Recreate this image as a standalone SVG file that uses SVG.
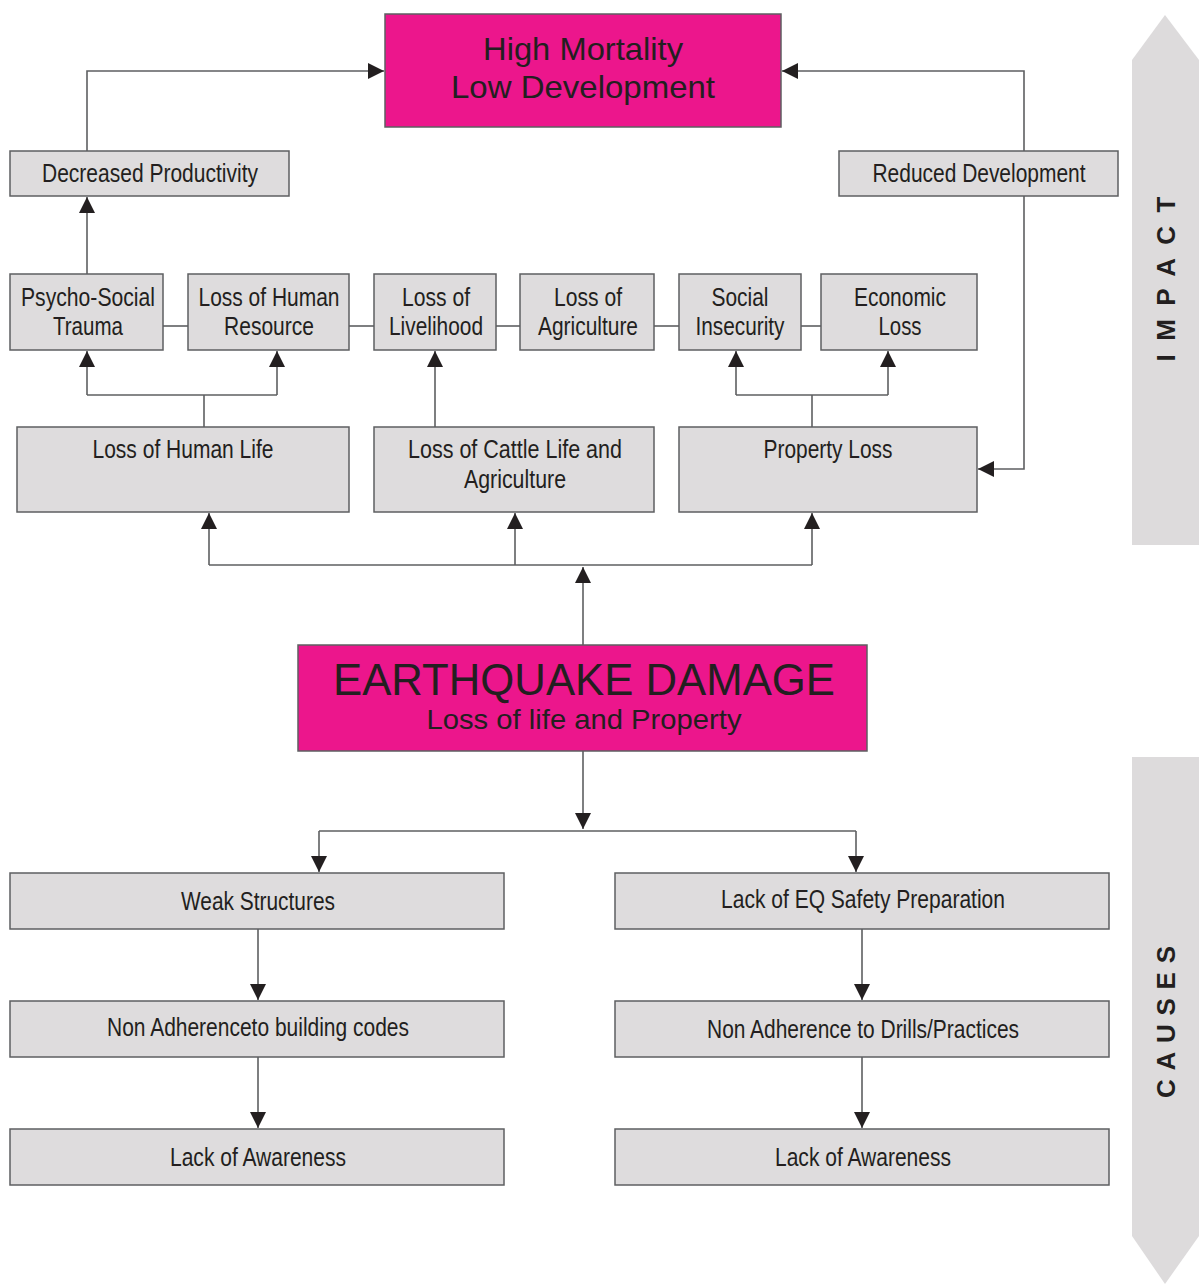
<svg xmlns="http://www.w3.org/2000/svg" width="1199" height="1284" viewBox="0 0 1199 1284">
<style>
.box{fill:#DEDCDD;stroke:#5E5F61;stroke-width:1.5}
.hot{fill:#EC168C;stroke:#5E5F61;stroke-width:1.5}
.t{font-family:"Liberation Sans",Arial,sans-serif;font-size:25px;fill:#231F20;text-anchor:middle}
.big{font-family:"Liberation Sans",Arial,sans-serif;fill:#231F20;text-anchor:middle}
.side{font-family:"Liberation Sans",Arial,sans-serif;font-size:26px;font-weight:bold;fill:#231F20;text-anchor:middle}
.ln{fill:none;stroke:#5E5F61;stroke-width:1.6}
.band{fill:#DDDBDC}
</style>
<defs>
<marker id="ah" markerWidth="16" markerHeight="16" viewBox="0 0 16 16" refX="16" refY="8" orient="auto" markerUnits="userSpaceOnUse">
<path d="M0,0 L16,8 L0,16 Z" fill="#231F20"/>
</marker>
</defs>

<g id="impact-band">
<polygon class="band" points="1132,60 1165,15 1199,60 1199,545 1132,545"/>
<text class="side" transform="translate(1175,279) rotate(-90)" textLength="165" lengthAdjust="spacing">IMPACT</text>
</g>
<g id="causes-band">
<polygon class="band" points="1132,757 1199,757 1199,1236 1165,1284 1132,1236"/>
<text class="side" transform="translate(1175,1022) rotate(-90)" textLength="152" lengthAdjust="spacing">CAUSES</text>
</g>

<g id="connectors">
<polyline class="ln" points="87,151 87,71 384,71" marker-end="url(#ah)"/>
<polyline class="ln" points="1024,151 1024,71 782,71" marker-end="url(#ah)"/>
<polyline class="ln" points="1024,196 1024,469 978,469" marker-end="url(#ah)"/>
<line class="ln" x1="87" y1="274" x2="87" y2="197" marker-end="url(#ah)"/>
<line class="ln" x1="163" y1="326" x2="188" y2="326"/>
<line class="ln" x1="349" y1="326" x2="374" y2="326"/>
<line class="ln" x1="496" y1="326" x2="520" y2="326"/>
<line class="ln" x1="654" y1="326" x2="679" y2="326"/>
<line class="ln" x1="801" y1="326" x2="821" y2="326"/>
<line class="ln" x1="204" y1="427" x2="204" y2="395"/>
<polyline class="ln" points="87,395 87,351" marker-end="url(#ah)"/>
<line class="ln" x1="87" y1="395" x2="277" y2="395"/>
<polyline class="ln" points="277,395 277,351" marker-end="url(#ah)"/>
<line class="ln" x1="435" y1="427" x2="435" y2="351" marker-end="url(#ah)"/>
<line class="ln" x1="812" y1="427" x2="812" y2="395"/>
<line class="ln" x1="736" y1="395" x2="888" y2="395"/>
<line class="ln" x1="736" y1="395" x2="736" y2="351" marker-end="url(#ah)"/>
<line class="ln" x1="888" y1="395" x2="888" y2="351" marker-end="url(#ah)"/>
<line class="ln" x1="209" y1="565" x2="812" y2="565"/>
<line class="ln" x1="209" y1="565" x2="209" y2="513" marker-end="url(#ah)"/>
<line class="ln" x1="515" y1="565" x2="515" y2="513" marker-end="url(#ah)"/>
<line class="ln" x1="812" y1="565" x2="812" y2="513" marker-end="url(#ah)"/>
<line class="ln" x1="583" y1="645" x2="583" y2="567" marker-end="url(#ah)"/>
<line class="ln" x1="583" y1="751" x2="583" y2="829" marker-end="url(#ah)"/>
<line class="ln" x1="319" y1="831" x2="856" y2="831"/>
<line class="ln" x1="319" y1="831" x2="319" y2="872" marker-end="url(#ah)"/>
<line class="ln" x1="856" y1="831" x2="856" y2="872" marker-end="url(#ah)"/>
<line class="ln" x1="258" y1="929" x2="258" y2="1000" marker-end="url(#ah)"/>
<line class="ln" x1="258" y1="1057" x2="258" y2="1128" marker-end="url(#ah)"/>
<line class="ln" x1="862" y1="929" x2="862" y2="1000" marker-end="url(#ah)"/>
<line class="ln" x1="862" y1="1057" x2="862" y2="1128" marker-end="url(#ah)"/>
</g>

<g id="high-mortality">
<rect class="hot" x="385" y="14" width="396" height="113"/>
<text class="big" x="583" y="60" font-size="32" textLength="200" lengthAdjust="spacingAndGlyphs">High Mortality</text>
<text class="big" x="583" y="98" font-size="32" textLength="264" lengthAdjust="spacingAndGlyphs">Low Development</text>
</g>
<g id="decreased-productivity">
<rect class="box" x="10" y="151" width="279" height="45"/>
<text class="t" x="150" y="182" textLength="216" lengthAdjust="spacingAndGlyphs">Decreased Productivity</text>
</g>
<g id="reduced-development">
<rect class="box" x="839" y="151" width="279" height="45"/>
<text class="t" x="979" y="182" textLength="213" lengthAdjust="spacingAndGlyphs">Reduced Development</text>
</g>

<g id="psycho-social">
<rect class="box" x="10" y="274" width="153" height="76"/>
<text class="t" x="88" y="306" textLength="134" lengthAdjust="spacingAndGlyphs">Psycho-Social</text>
<text class="t" x="88" y="335" textLength="70" lengthAdjust="spacingAndGlyphs">Trauma</text>
</g>
<g id="loss-human-resource">
<rect class="box" x="188" y="274" width="161" height="76"/>
<text class="t" x="269" y="306" textLength="141" lengthAdjust="spacingAndGlyphs">Loss of Human</text>
<text class="t" x="269" y="335" textLength="90" lengthAdjust="spacingAndGlyphs">Resource</text>
</g>
<g id="loss-livelihood">
<rect class="box" x="374" y="274" width="122" height="76"/>
<text class="t" x="436" y="306" textLength="68" lengthAdjust="spacingAndGlyphs">Loss of</text>
<text class="t" x="436" y="335" textLength="94" lengthAdjust="spacingAndGlyphs">Livelihood</text>
</g>
<g id="loss-agriculture">
<rect class="box" x="520" y="274" width="134" height="76"/>
<text class="t" x="588" y="306" textLength="68" lengthAdjust="spacingAndGlyphs">Loss of</text>
<text class="t" x="588" y="335" textLength="100" lengthAdjust="spacingAndGlyphs">Agriculture</text>
</g>
<g id="social-insecurity">
<rect class="box" x="679" y="274" width="122" height="76"/>
<text class="t" x="740" y="306" textLength="57" lengthAdjust="spacingAndGlyphs">Social</text>
<text class="t" x="740" y="335" textLength="89" lengthAdjust="spacingAndGlyphs">Insecurity</text>
</g>
<g id="economic-loss">
<rect class="box" x="821" y="274" width="156" height="76"/>
<text class="t" x="900" y="306" textLength="92" lengthAdjust="spacingAndGlyphs">Economic</text>
<text class="t" x="900" y="335" textLength="43" lengthAdjust="spacingAndGlyphs">Loss</text>
</g>

<g id="loss-human-life">
<rect class="box" x="17" y="427" width="332" height="85"/>
<text class="t" x="183" y="458" textLength="181" lengthAdjust="spacingAndGlyphs">Loss of Human Life</text>
</g>
<g id="loss-cattle">
<rect class="box" x="374" y="427" width="280" height="85"/>
<text class="t" x="515" y="458" textLength="214" lengthAdjust="spacingAndGlyphs">Loss of Cattle Life and</text>
<text class="t" x="515" y="488" textLength="102" lengthAdjust="spacingAndGlyphs">Agriculture</text>
</g>
<g id="property-loss">
<rect class="box" x="679" y="427" width="298" height="85"/>
<text class="t" x="828" y="458" textLength="129" lengthAdjust="spacingAndGlyphs">Property Loss</text>
</g>

<g id="earthquake-damage">
<rect class="hot" x="298" y="645" width="569" height="106"/>
<text class="big" x="584" y="695" font-size="44" textLength="502" lengthAdjust="spacingAndGlyphs">EARTHQUAKE DAMAGE</text>
<text class="big" x="584" y="729" font-size="28" textLength="315" lengthAdjust="spacingAndGlyphs">Loss of life and Property</text>
</g>

<g id="weak-structures">
<rect class="box" x="10" y="873" width="494" height="56"/>
<text class="t" x="258" y="910" textLength="154" lengthAdjust="spacingAndGlyphs">Weak Structures</text>
</g>
<g id="non-adherence-codes">
<rect class="box" x="10" y="1001" width="494" height="56"/>
<text class="t" x="258" y="1036" textLength="302" lengthAdjust="spacingAndGlyphs">Non Adherenceto building codes</text>
</g>
<g id="lack-awareness-left">
<rect class="box" x="10" y="1129" width="494" height="56"/>
<text class="t" x="258" y="1166" textLength="176" lengthAdjust="spacingAndGlyphs">Lack of Awareness</text>
</g>
<g id="lack-eq-safety">
<rect class="box" x="615" y="873" width="494" height="56"/>
<text class="t" x="863" y="908" textLength="284" lengthAdjust="spacingAndGlyphs">Lack of EQ Safety Preparation</text>
</g>
<g id="non-adherence-drills">
<rect class="box" x="615" y="1001" width="494" height="56"/>
<text class="t" x="863" y="1038" textLength="312" lengthAdjust="spacingAndGlyphs">Non Adherence to Drills/Practices</text>
</g>
<g id="lack-awareness-right">
<rect class="box" x="615" y="1129" width="494" height="56"/>
<text class="t" x="863" y="1166" textLength="176" lengthAdjust="spacingAndGlyphs">Lack of Awareness</text>
</g>
</svg>
